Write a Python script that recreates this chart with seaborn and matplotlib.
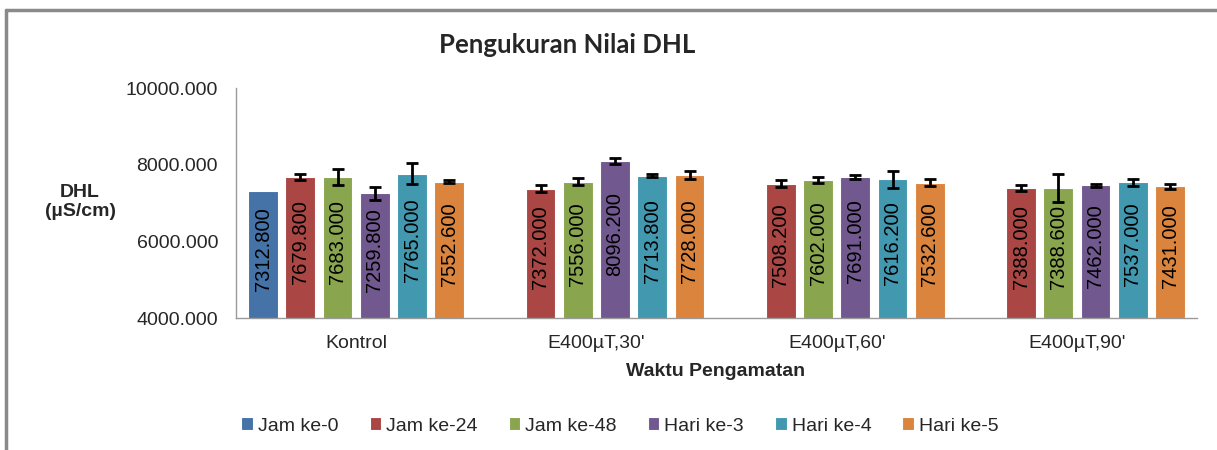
import numpy as np
import pandas as pd
import matplotlib.pyplot as plt
import seaborn as sns
from matplotlib.lines import Line2D

groups = ["Kontrol", "E400µT,30'", "E400µT,60'", "E400µT,90'"]
times = ["Jam ke-0", "Jam ke-24", "Jam ke-48", "Hari ke-3", "Hari ke-4", "Hari ke-5"]

jam0 = [7312.8, None, None, None]
jam24 = [7679.8, 7372.0, 7508.2, 7388.0]
jam48 = [7683.0, 7556.0, 7602.0, 7388.6]
hari3 = [7259.8, 8096.2, 7691.0, 7462.0]
hari4 = [7765.0, 7713.8, 7616.2, 7537.0]
hari5 = [7552.6, 7728.0, 7532.6, 7431.0]

sd0 = [0, None, None, None]
sd24 = [80, 90, 95, 78]
sd48 = [210, 87, 87, 365]
sd3 = [170, 87, 52, 35]
sd4 = [275, 48, 225, 95]
sd5 = [40, 95, 87, 78]

colors = ["#4572A7", "#AA4643", "#89A54E", "#71588F", "#4198AF", "#DB843D"]

rows = []
for t, vals, sds in zip(times, [jam0, jam24, jam48, hari3, hari4, hari5],
                        [sd0, sd24, sd48, sd3, sd4, sd5]):
    for g, v, s in zip(groups, vals, sds):
        if v is not None:
            rows.append({"grup": g, "waktu": t, "dhl": v, "sd": s})
df = pd.DataFrame(rows)

sns.set_style("white")
plt.rcParams["font.family"] = ["Liberation Sans", "DejaVu Sans"]

fig = plt.figure(figsize=(12.17, 4.5), dpi=100)
ax = fig.add_axes([0.194, 0.2933, 0.7896, 0.5111])

sns.barplot(data=df, x="grup", y="dhl", hue="waktu", order=groups, hue_order=times,
            palette=colors, saturation=1, width=0.93, gap=0.2, errorbar=None,
            edgecolor="white", linewidth=0.8, ax=ax, legend=True)

# error bars + value labels
for cont, t in zip(ax.containers, times):
    sub = df[df["waktu"] == t].set_index("grup")
    for bar in cont:
        xc = bar.get_x() + bar.get_width() / 2
        g = groups[int(round(xc))]
        v = sub.loc[g, "dhl"]
        s = sub.loc[g, "sd"]
        if s > 0:
            ax.errorbar(xc, v, yerr=s, color="black", lw=2, capsize=4, capthick=2)
        ax.text(xc, (4000 + v) / 2 + 150, f"{v:.3f}", rotation=90, ha="center",
                va="center", fontsize=14.5, color="black")

ax.set_xlim(-0.5, 3.5)
ax.set_ylim(4000, 10000)
ax.set_yticks([4000, 6000, 8000, 10000])
ax.set_yticklabels([f"{y:.3f}" for y in [4000, 6000, 8000, 10000]])
ax.tick_params(axis="y", length=0, pad=13, labelsize=14)
ax.tick_params(axis="x", length=0, pad=12, labelsize=14)
ax.set_xlabel("")
ax.set_ylabel("")
for side in ["top", "right"]:
    ax.spines[side].set_visible(False)
for side in ["left", "bottom"]:
    ax.spines[side].set_color("#9a9a9a")
    ax.spines[side].set_linewidth(1)

handles, labels = ax.get_legend_handles_labels()
ax.legend(handles, labels, loc="center", bbox_to_anchor=(620 / 1217, 1 - 426 / 450),
          bbox_transform=fig.transFigure, ncol=6, frameon=False, fontsize=14,
          handlelength=0.6, handleheight=0.6, handletextpad=0.25, columnspacing=1.6)

fig.text(567 / 1217, 1 - 45 / 450, "Pengukuran Nilai DHL", ha="center", va="center",
         fontsize=18.5, fontweight="bold", family="Lato")
fig.text(80 / 1217, 1 - 202 / 450, "DHL\n(µS/cm)", ha="center", va="center",
         fontsize=14, fontweight="bold", linespacing=1.2)
fig.text(716 / 1217, 1 - 372 / 450, "Waktu Pengamatan", ha="center", va="center",
         fontsize=14, fontweight="bold")

# outer chart frame (cropped)
fig.add_artist(Line2D([6 / 1217, 1], [1 - 10 / 450, 1 - 10 / 450], color="#8a8a8a", lw=2.5))
fig.add_artist(Line2D([6 / 1217, 6 / 1217], [0, 1 - 10 / 450], color="#8a8a8a", lw=2.5))

fig.savefig("out.png", dpi=100)
